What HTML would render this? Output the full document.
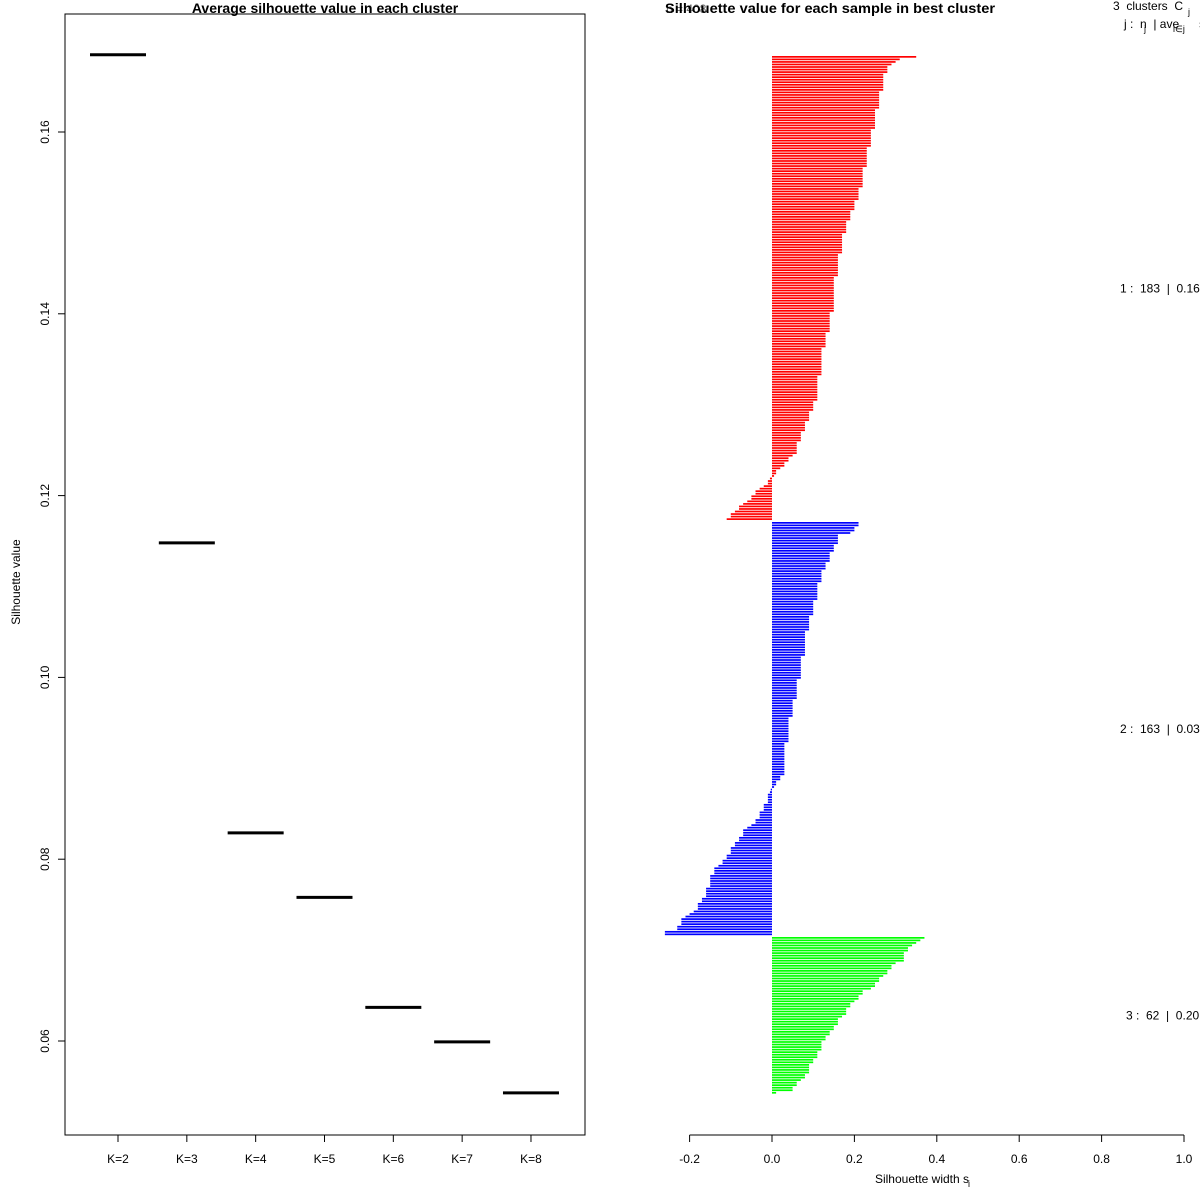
<!DOCTYPE html>
<html><head><meta charset="utf-8"><style>
html,body{margin:0;padding:0;background:#fff;}
svg{display:block;font-family:"Liberation Sans",sans-serif;}
text{white-space:pre;}
</style></head><body>
<svg id="chart" width="1200" height="1200" viewBox="0 0 1200 1200" xmlns="http://www.w3.org/2000/svg">
<rect width="1200" height="1200" fill="#fff"/>
<g id="left"></g>
<g id="right"></g>
</svg>
<script>
// ---- Left chart data ----
const kLabels = ["K=2","K=3","K=4","K=5","K=6","K=7","K=8"];
const avgSil = [0.1685,0.1148,0.0829,0.0758,0.0637,0.0599,0.0543];
const leftYTicks = [0.06,0.08,0.10,0.12,0.14,0.16];
// ---- Right chart data ----
const clusterNames = ["1","2","3"];
const clusterColors = ["#ff0000","#0000ff","#00ff00"];
const clusterAvg = ["0.16","0.03","0.20"];
const sil1 = [0.35,0.31,0.30,0.29,0.28,0.28,0.28,0.27,0.27,0.27,
0.27,0.27,0.27,0.27,0.26,0.26,0.26,0.26,0.26,0.26,
0.26,0.25,0.25,0.25,0.25,0.25,0.25,0.25,0.25,0.24,
0.24,0.24,0.24,0.24,0.24,0.24,0.23,0.23,0.23,0.23,
0.23,0.23,0.23,0.23,0.22,0.22,0.22,0.22,0.22,0.22,
0.22,0.22,0.21,0.21,0.21,0.21,0.21,0.20,0.20,0.20,
0.20,0.19,0.19,0.19,0.19,0.18,0.18,0.18,0.18,0.18,
0.17,0.17,0.17,0.17,0.17,0.17,0.17,0.17,0.16,0.16,
0.16,0.16,0.16,0.16,0.16,0.16,0.16,0.15,0.15,0.15,
0.15,0.15,0.15,0.15,0.15,0.15,0.15,0.15,0.15,0.15,
0.15,0.14,0.14,0.14,0.14,0.14,0.14,0.14,0.14,0.13,
0.13,0.13,0.13,0.13,0.13,0.12,0.12,0.12,0.12,0.12,
0.12,0.12,0.12,0.12,0.12,0.12,0.11,0.11,0.11,0.11,
0.11,0.11,0.11,0.11,0.11,0.11,0.10,0.10,0.10,0.10,
0.09,0.09,0.09,0.09,0.08,0.08,0.08,0.08,0.07,0.07,
0.07,0.07,0.06,0.06,0.06,0.06,0.06,0.05,0.04,0.04,
0.03,0.03,0.02,0.01,0.01,0.005,-0.005,-0.01,-0.01,-0.02,
-0.03,-0.04,-0.04,-0.05,-0.05,-0.06,-0.07,-0.08,-0.08,-0.09,-0.10,-0.10,-0.11];
const sil2 = [0.21,0.21,0.20,0.20,0.19,0.16,0.16,0.16,0.16,0.15,
0.15,0.15,0.14,0.14,0.14,0.14,0.13,0.13,0.13,0.12,
0.12,0.12,0.12,0.12,0.11,0.11,0.11,0.11,0.11,0.11,
0.11,0.10,0.10,0.10,0.10,0.10,0.10,0.09,0.09,0.09,
0.09,0.09,0.09,0.08,0.08,0.08,0.08,0.08,0.08,0.08,
0.08,0.08,0.08,0.07,0.07,0.07,0.07,0.07,0.07,0.07,
0.07,0.07,0.06,0.06,0.06,0.06,0.06,0.06,0.06,0.06,
0.05,0.05,0.05,0.05,0.05,0.05,0.05,0.04,0.04,0.04,
0.04,0.04,0.04,0.04,0.04,0.04,0.04,0.03,0.03,0.03,
0.03,0.03,0.03,0.03,0.03,0.03,0.03,0.03,0.03,0.03,
0.02,0.02,0.01,0.01,0.005,-0.003,-0.005,-0.01,-0.01,-0.01,
-0.01,-0.02,-0.02,-0.02,-0.03,-0.03,-0.03,-0.04,-0.04,-0.05,
-0.06,-0.07,-0.07,-0.07,-0.08,-0.08,-0.09,-0.09,-0.10,-0.10,
-0.10,-0.11,-0.11,-0.12,-0.12,-0.13,-0.14,-0.14,-0.14,-0.15,
-0.15,-0.15,-0.15,-0.15,-0.16,-0.16,-0.16,-0.16,-0.17,-0.17,
-0.18,-0.18,-0.18,-0.19,-0.20,-0.21,-0.22,-0.22,-0.22,-0.23,
-0.23,-0.26,-0.26];
const sil3 = [0.37,0.36,0.35,0.34,0.33,0.33,0.32,0.32,0.32,0.32,
0.30,0.29,0.29,0.28,0.28,0.27,0.26,0.26,0.25,0.25,
0.24,0.22,0.22,0.21,0.21,0.20,0.19,0.19,0.18,0.18,
0.18,0.17,0.16,0.16,0.16,0.15,0.15,0.14,0.14,0.13,
0.13,0.12,0.12,0.12,0.12,0.11,0.11,0.11,0.10,0.10,
0.09,0.09,0.09,0.09,0.08,0.08,0.07,0.06,0.06,0.05,
0.05,0.01];
const rightXTicks = [-0.2,0.0,0.2,0.4,0.6,0.8,1.0];

const NS="http://www.w3.org/2000/svg";
function mk(parent,tag,attrs,text){
  const e=document.createElementNS(NS,tag);
  for(const k in attrs) e.setAttribute(k,attrs[k]);
  if(text!==undefined) e.textContent=text;
  parent.appendChild(e); return e;
}
// ---------- Left panel ----------
const L=document.getElementById('left');
const yL=v=>132+(0.16-v)*9090;
const xL=i=>118+i*68.83;
let e;
e=mk(L,'rect',{x:65,y:14,width:520,height:1121,fill:'none',stroke:'#000','stroke-width':1});


e=mk(L,'text',{x:325,y:13,'text-anchor':'middle','font-size':14,'font-weight':'bold'},'Average silhouette value in each cluster');


e=mk(L,'text',{x:20,y:582,'text-anchor':'middle','font-size':12,transform:'rotate(-90 20 582)'},'Silhouette value');


leftYTicks.forEach(v=>{
  const y=yL(v);
  mk(L,'line',{x1:58,y1:y,x2:65,y2:y,stroke:'#000'});
  const t=mk(L,'text',{x:49,y:y,'text-anchor':'middle','font-size':12,transform:`rotate(-90 49 ${y})`},v.toFixed(2));
  
  
});
kLabels.forEach((k,i)=>{
  const x=xL(i);
  mk(L,'line',{x1:x,y1:1135,x2:x,y2:1142,stroke:'#000'});
  const t=mk(L,'text',{x:x,y:1163,'text-anchor':'middle','font-size':12},k);
  
  
  const s=mk(L,'line',{x1:x-28,y1:yL(avgSil[i]),x2:x+28,y2:yL(avgSil[i]),stroke:'#000','stroke-width':3});
  
  
});
// ---------- Right panel ----------
const R=document.getElementById('right');
const xR=v=>772+v*412;
const step=2.54;
const yStart=[56,522,937];
const sils=[sil1,sil2,sil3];
sils.forEach((arr,c)=>{
  arr.forEach((v,i)=>{
    const y=yStart[c]+i*step;
    const x0=Math.min(xR(0),xR(v)), w=Math.abs(xR(v)-xR(0));
    const b=mk(R,'rect',{x:x0,y:y,width:Math.max(w,0.5),height:1.7,fill:clusterColors[c]});
    
    
  });
  const mid=yStart[c]+arr.length*step/2+4;
  const t=mk(R,'text',{x:(c===2?1126:1120),y:mid,'font-size':12},clusterNames[c]+' :  '+arr.length+'  |  '+clusterAvg[c]);
  
  
});
e=mk(R,'text',{x:665,y:13,'font-size':14,'font-weight':'bold',textLength:330,lengthAdjust:'spacingAndGlyphs'},'Silhouette value for each sample in best cluster');


e=mk(R,'text',{x:666,y:13,'font-size':12,fill:'#000','fill-opacity':0.6},'n = 408');


e=mk(R,'text',{x:1113,y:10,'font-size':12},'3  clusters  C');


mk(R,'text',{x:1188,y:15,'font-size':9},'j');
e=mk(R,'text',{x:1124,y:28,'font-size':12},'j :  n  | ave      s');


mk(R,'text',{x:1144,y:32,'font-size':9},'j');
mk(R,'text',{x:1173,y:32,'font-size':9},'i∈j');
mk(R,'line',{x1:xR(-0.2),y1:1135,x2:xR(1),y2:1135,stroke:'#000'});
rightXTicks.forEach(v=>{
  const x=xR(v);
  mk(R,'line',{x1:x,y1:1135,x2:x,y2:1142,stroke:'#000'});
  const t=mk(R,'text',{x:x,y:1163,'text-anchor':'middle','font-size':12},v.toFixed(1));
  
  
});
e=mk(R,'text',{x:922,y:1183,'text-anchor':'middle','font-size':12},'Silhouette width s');


mk(R,'text',{x:968,y:1187,'font-size':9},'i');
</script>
</body></html>
